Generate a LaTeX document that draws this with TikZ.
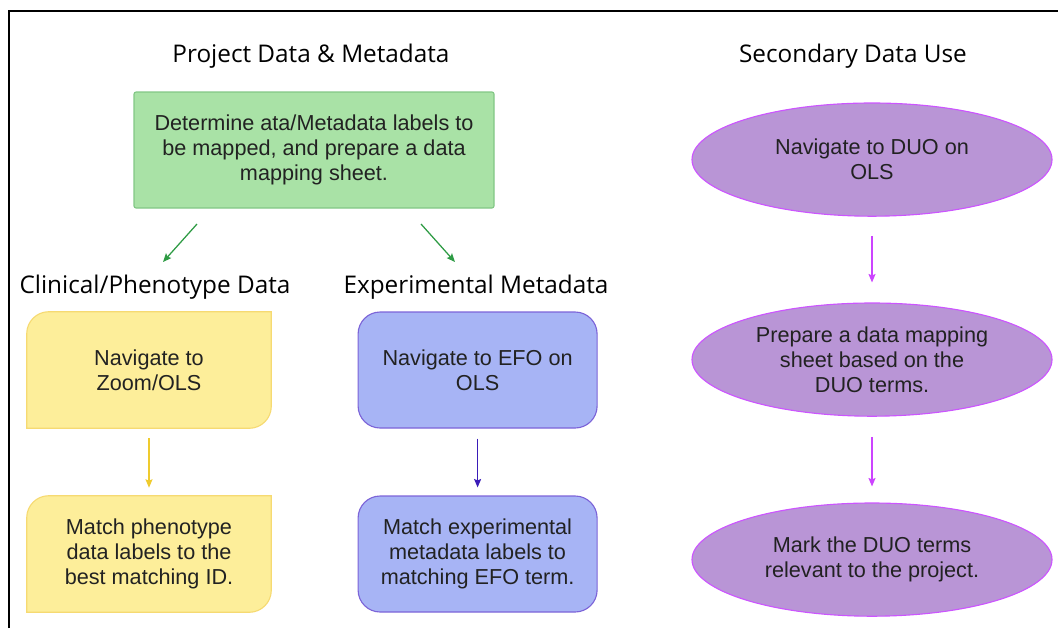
\documentclass[tikz,border=0pt]{standalone}
\usepackage{fontspec}
\usepackage{tikz}
\usetikzlibrary{shapes,shapes.geometric,arrows.meta,calc,positioning,backgrounds}

\newfontfamily\boxfont{Liberation Sans}
\newfontfamily\headfont{Open Sans}

\definecolor{greenfill}{HTML}{A9E2A6}
\definecolor{greenline}{HTML}{82C785}
\definecolor{greenarrow}{HTML}{2E9B44}
\definecolor{yellowfill}{HTML}{FDEE9A}
\definecolor{yellowline}{HTML}{F6DA72}
\definecolor{yellowarrow}{HTML}{EFCB2E}
\definecolor{bluefill}{HTML}{A7B4F5}
\definecolor{blueline}{HTML}{7C64D8}
\definecolor{bluearrow}{HTML}{3A1CB8}
\definecolor{duofill}{HTML}{B995D6}
\definecolor{duoline}{HTML}{CC55FF}
\definecolor{duoarrow}{HTML}{CC44FF}
\definecolor{boxtext}{HTML}{222222}

\tikzset{
  heading/.style={font=\headfont\fontsize{17.3}{20}\selectfont, text=black, inner sep=0pt},
  boxtxt/.style={font=\boxfont\fontsize{15.4}{17.7}\selectfont, text=boxtext, align=center, inner sep=0pt},
  greenbox/.style={boxtxt, draw=greenline, fill=greenfill, line width=0.8pt, rounded corners=1.5pt,
    minimum width=9cm, minimum height=2.9cm},
  yellowbox/.style={boxtxt, minimum width=6.1cm, minimum height=2.9cm},
  notebox/.style={draw=yellowline, fill=yellowfill, line width=0.8pt},
  bluebox/.style={boxtxt, draw=blueline, fill=bluefill, line width=0.8pt, rounded corners=0.55cm,
    minimum width=5.975cm, minimum height=2.9cm},
  duo/.style={boxtxt, ellipse, draw=duoline, fill=duofill, line width=0.8pt,
    minimum width=9cm, minimum height=2.83cm},
  link/.style={->, line width=0.9pt}
}

\begin{document}
\begin{tikzpicture}[%
>={Stealth[length=6pt,width=5pt,inset=1pt]},
node distance=4.6cm,
on grid,
auto
]
\useasboundingbox (0,0) rectangle (26.45,-15.7);
\draw[line width=1.4pt] (0.225,-15.7) -- (0.225,-0.275) -- (26.45,-0.275);

% project data and metadata
\node[heading] (projT) at (7.775,-1.4) {Project Data \& Metadata};
\node[greenbox] (det) at (7.85,-3.75) {Determine ata/Metadata labels to\\be mapped, and prepare a data\\mapping sheet.};

\node[heading] (clinT) at (3.875,-7.175) {Clinical/Phenotype Data};
\node[heading] (expT) at (11.9,-7.175) {Experimental Metadata};

\node[yellowbox] (navZ) at (3.725,-9.25) {Navigate to\\Zoom/OLS};
\node[yellowbox] (matchP) [below of=navZ] {Match phenotype\\data labels to the\\best matching ID.};
\node[bluebox] (navE) at (11.94,-9.25) {Navigate to EFO on\\OLS};
\node[bluebox] (matchE) [below of=navE] {Match experimental\\metadata labels to\\matching EFO term.};

% secondary data use
\node[heading] (secT) at (21.325,-1.4) {Secondary Data Use};
\node[duo] (navD) at (21.8,-3.99) {Navigate to DUO on\\OLS};
\node[duo] (prepD) [below of=navD, node distance=5cm] {Prepare a data mapping\\sheet based on the\\DUO terms.};
\node[duo] (markD) [below of=prepD, node distance=5cm] {Mark the DUO terms\\relevant to the project.};

% yellow note shapes
\begin{scope}[on background layer]
\foreach \n in {navZ,matchP}
  \draw[notebox] ($(\n.north west)+(0,-0.55)$) arc[start angle=180,end angle=90,radius=0.55]
    -- (\n.north east) -- ($(\n.south east)+(0,0.55)$) arc[start angle=0,end angle=-90,radius=0.55]
    -- (\n.south west) -- cycle;
\end{scope}

% arrows
\coordinate (g1s) at (4.925,-5.6);
\coordinate (g1e) at (4.075,-6.55);
\coordinate (g2s) at (10.525,-5.6);
\coordinate (g2e) at (11.375,-6.55);
\draw[link, greenarrow] (g1s) -- (g1e);
\draw[link, greenarrow] (g2s) -- (g2e);
\draw[link, yellowarrow, shorten <=0.25cm, shorten >=0.2cm] (navZ) -- (matchP);
\draw[link, bluearrow, shorten <=0.25cm, shorten >=0.2cm] (navE) -- (matchE);
\draw[link, duoarrow, shorten <=0.475cm, shorten >=0.5cm] (navD) -- (prepD);
\draw[link, duoarrow, shorten <=0.5cm, shorten >=0.4cm] (prepD) -- (markD);

\end{tikzpicture}
\end{document}
